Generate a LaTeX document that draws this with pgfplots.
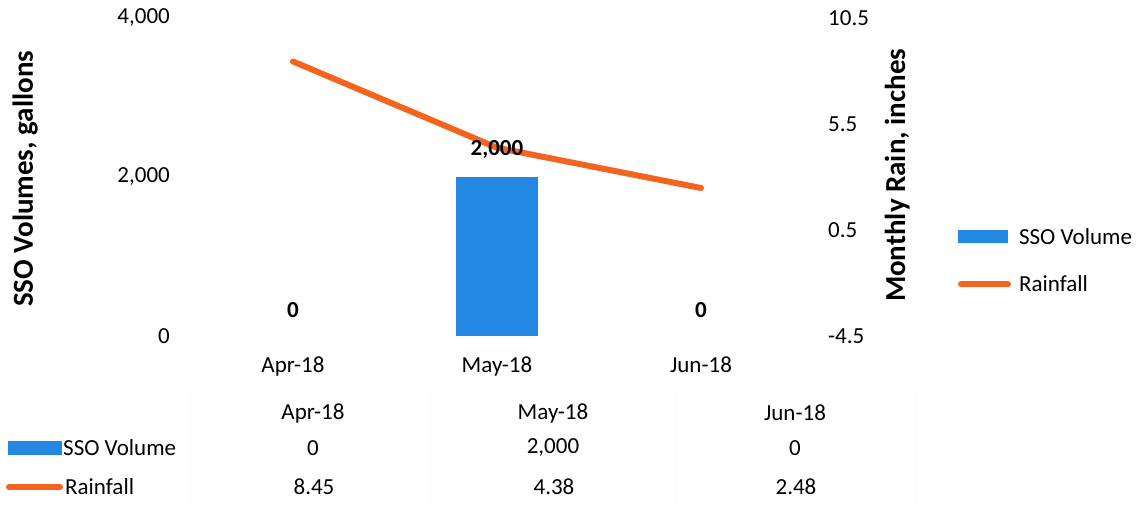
\documentclass[border=0pt]{standalone}
\usepackage{pgfplots}
\pgfplotsset{compat=1.18}
\usepackage{fontspec}
\setmainfont{Carlito}
\definecolor{ssoblue}{HTML}{2187E0}
\definecolor{rainorange}{HTML}{F5641E}
\newcommand\fs{\fontsize{23}{27}\selectfont}
\begin{document}
\begin{tikzpicture}[x=1pt,y=1pt]
\path[use as bounding box] (0,0) rectangle (1141,506);
\pgfplotsset{base/.style={
  scale only axis, width=612pt, height=318pt,
  at={(191pt,170pt)}, anchor=south west,
  xmin=-0.5, xmax=2.5,
  axis line style={draw=none},
  major tick length=0pt,
  tick label style={font=\fs},
  /pgf/number format/assume math mode=true,
}}

% rainfall, right axis (drawn first so the bar labels sit on top)
\begin{axis}[base,
  axis x line=none, axis y line*=right,
  ymin=-4.5, ymax=10.5,
  ytick={-4.5,0.5,5.5,10.5},
  yticklabel style={anchor=west, inner sep=0pt, xshift=25pt,
    /pgf/number format/.cd, fixed, fixed zerofill, precision=1},
  ylabel={Monthly Rain, inches},
  every axis y label/.style={at={(axis description cs:1.154,0.505)},rotate=90,anchor=center,font=\fontsize{29}{33}\selectfont\bfseries},
]
\addplot[rainorange, line width=6pt, line cap=round, line join=round]
  coordinates {(0,8.45) (1,4.38) (2,2.48)};
\end{axis}

% SSO volume, left axis
\begin{axis}[base,
  ymin=0, ymax=4000,
  ytick={0,2000,4000},
  yticklabel style={anchor=east, inner sep=0pt, xshift=-21pt},
  xtick={0,1,2},
  xticklabels={Apr-18,May-18,Jun-18},
  xticklabel style={anchor=north, inner sep=0pt, yshift=-21pt},
  ylabel={SSO Volumes, gallons},
  every axis y label/.style={at={(axis description cs:-0.271,0.494)},rotate=90,anchor=center,font=\fontsize{29}{33}\selectfont\bfseries},
  legend style={at={(1.253,0.237)}, anchor=west, draw=none, fill=none,
    font=\fs, inner sep=0pt, row sep=26pt, column sep=6pt, cells={anchor=west}},
  legend cell align=left,
]
\addplot[ybar, bar width=82pt, bar shift=0pt, fill=ssoblue, draw=none,
  restrict y to domain=1:5000,
  legend image code/.code={\fill[ssoblue] (0pt,-6.5pt) rectangle (50pt,6.5pt);}]
  coordinates {(0,0) (1,2000) (2,0)};
\addlegendentry{SSO Volume}
\addlegendimage{legend image code/.code={\draw[rainorange,line width=6pt,line cap=round] (3pt,0pt) -- (50pt,0pt);}}
\addlegendentry{Rainfall}
% value labels above the bars
\addplot[ybar, bar width=82pt, bar shift=0pt, draw=none, fill=none,
  nodes near coords,
  every node near coord/.append style={font=\fs\bfseries, inner sep=0pt, yshift=18pt, text=black},
  forget plot]
  coordinates {(0,0) (1,2000) (2,0)};
\end{axis}

% data table
\foreach \x in {190,430,675,915} \draw[gray!4] (\x,0) -- (\x,112);
\node[font=\fs] at (313,93) {Apr-18};
\node[font=\fs] at (553,93) {May-18};
\node[font=\fs] at (795,93) {Jun-18};
\fill[ssoblue] (8,51) rectangle (62,65);
\node[font=\fs, anchor=west, inner sep=0pt] at (63,58) {SSO Volume};
\node[font=\fs] at (313,58) {0};
\node[font=\fs] at (553,58) {2,000};
\node[font=\fs] at (795,58) {0};
\draw[rainorange, line width=6pt, line cap=round] (9,19) -- (60,19);
\node[font=\fs, anchor=west, inner sep=0pt] at (65,19) {Rainfall};
\node[font=\fs] at (314,19) {8.45};
\node[font=\fs] at (554,19) {4.38};
\node[font=\fs] at (796,19) {2.48};
\end{tikzpicture}
\end{document}
